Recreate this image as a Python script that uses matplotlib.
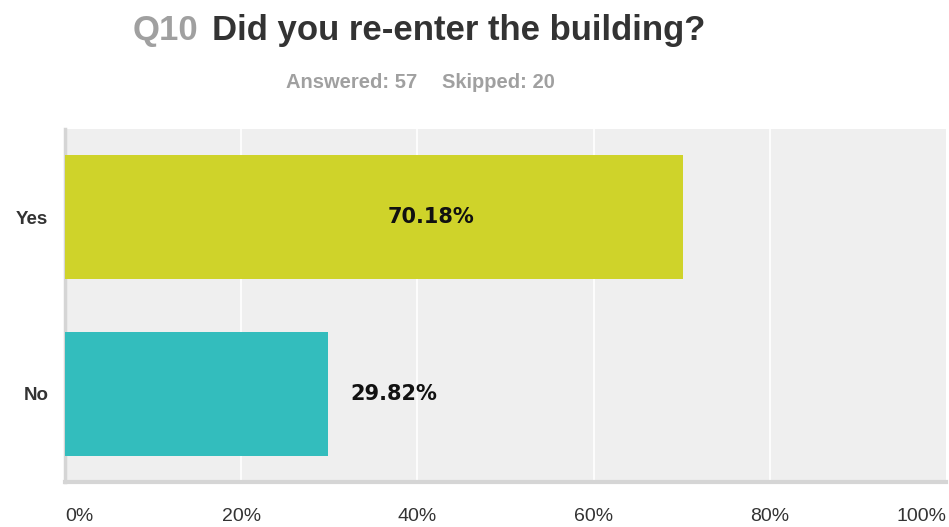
import matplotlib
matplotlib.use("Agg")
import matplotlib.pyplot as plt

CATEGORIES = ["Yes", "No"]
PERCENTS = [70.18, 29.82]
BAR_COLORS = ["#cfd32a", "#33bdbd"]
X_TICKS = [0, 20, 40, 60, 80, 100]
QUESTION_NO = "Q10"
QUESTION = "Did you re-enter the building?"
ANSWERED = 57
SKIPPED = 20

NARROW = ["Liberation Sans", "DejaVu Sans"]

fig = plt.figure(figsize=(9.49, 5.27), dpi=100)
W, H = 949, 527
ax = fig.add_axes([65 / W, 1 - 482 / H, (946 - 65) / W, (482 - 129) / H])
ax.set_facecolor("#efefef")

ypos = list(range(len(CATEGORIES)))
ax.barh(ypos, PERCENTS, height=0.7, color=BAR_COLORS, zorder=3)
ax.set_ylim(len(CATEGORIES) - 0.5, -0.5)
ax.set_xlim(0, 100)

for x in X_TICKS[1:-1]:
    ax.axvline(x, color="white", lw=1.2, zorder=1)

# value labels: inside the wide bar, right of the short one
ax.text(41.5, 0, f"{PERCENTS[0]:.2f}%", ha="center", va="center",
        fontsize=15, fontweight="bold", color="#111111", zorder=4)
ax.text(PERCENTS[1] + 2.6, 1, f"{PERCENTS[1]:.2f}%", ha="left", va="center",
        fontsize=15, fontweight="bold", color="#111111", zorder=4)

for side in ["top", "right"]:
    ax.spines[side].set_visible(False)
ax.spines["left"].set_color("#d5d5d5")
ax.spines["left"].set_linewidth(2.5)
ax.spines["bottom"].set_color("#d5d5d5")
ax.spines["bottom"].set_linewidth(3)

ax.set_yticks(ypos)
ax.set_yticklabels(CATEGORIES, fontsize=13.5, fontweight="bold", color="#333333",
                   family=NARROW)
ax.set_xticks(X_TICKS)
ax.set_xticklabels([f"{t}%" for t in X_TICKS], fontsize=14, color="#333333",
                   family=NARROW)
xlabels = ax.get_xticklabels()
xlabels[0].set_ha("left")
xlabels[-1].set_ha("right")
ax.tick_params(axis="both", length=0)
ax.tick_params(axis="y", pad=12)
ax.tick_params(axis="x", pad=19)

fig.text(133 / W, 1 - 40 / H, QUESTION_NO, ha="left", va="baseline",
         fontsize=25, fontweight="bold", color="#a0a0a0", family=NARROW)
fig.text(212 / W, 1 - 40 / H, QUESTION, ha="left", va="baseline",
         fontsize=25, fontweight="bold", color="#333333", family=NARROW)
fig.text(286 / W, 1 - 88 / H, f"Answered: {ANSWERED}", ha="left",
         va="baseline", fontsize=14.5, fontweight="bold", color="#a0a0a0",
         family=NARROW)
fig.text(555 / W, 1 - 88 / H, f"Skipped: {SKIPPED}", ha="right",
         va="baseline", fontsize=14.5, fontweight="bold", color="#a0a0a0",
         family=NARROW)

fig.savefig("out.png", dpi=100)
